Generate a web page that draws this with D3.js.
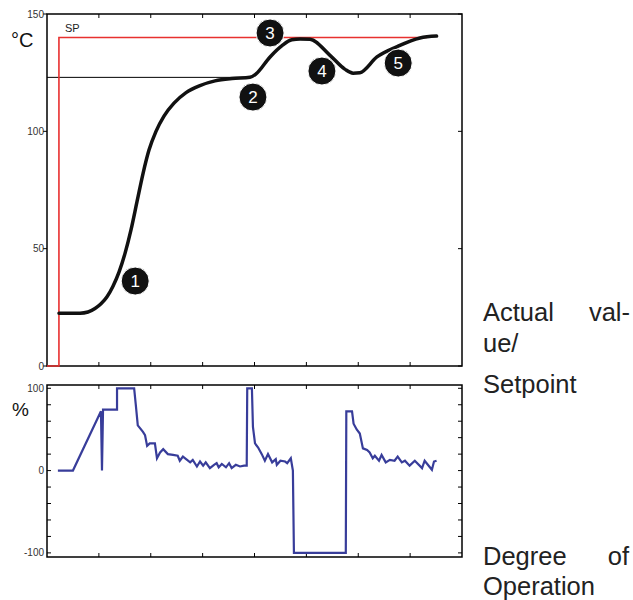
<!DOCTYPE html>
<html>
<head>
<meta charset="utf-8">
<script src="https://cdn.jsdelivr.net/npm/d3@7"></script>
<style>
  body { margin: 0; background: #fff; }
  svg { display: block; font-family: "Liberation Sans", Arial, sans-serif; }
</style>
</head>
<body>
<svg id="chart" width="633" height="600"></svg>
<script>
// time in grid units (0..8), values in °C
const actualX = [0.231, 0.636, 0.79, 0.925, 1.041, 1.157, 1.272, 1.388, 1.504, 1.619, 1.735, 1.851, 1.966, 2.101, 2.255, 2.448, 2.68, 2.949, 3.239, 3.566, 3.913, 4.03, 4.3, 4.53, 4.72, 4.88, 5.07, 5.45, 5.74, 5.9, 6.03, 6.36, 6.74, 7.19, 7.51];
const actualY = [22.5, 22.5, 23, 24.5, 26.5, 29.5, 34, 40, 48, 58, 70, 82, 92, 100, 106.5, 112, 116.5, 119.5, 121.5, 122.5, 123, 124.5, 131.7, 136.5, 139, 139.3, 139.2, 132.5, 126.5, 124.8, 125, 131.7, 136, 139.8, 140.6];

const setpointX = [0, 0.23, 0.23, 7.32];
const setpointY = [0, 0, 140, 140];

const refLineX = [0, 3.9];
const refLineY = [123, 123];

const markerLabels = ["1", "2", "3", "4", "5"];
const markerX = [1.7, 3.97, 4.3, 5.3, 6.77];
const markerY = [36.2, 114.6, 141.9, 125.7, 129.1];

// degree of operation in %
const opX = [0.21, 0.5, 1.04, 1.06, 1.08, 1.35, 1.35, 1.68, 1.71, 1.75, 1.85, 1.89, 1.93, 1.98, 2.08, 2.12, 2.18, 2.24, 2.33, 2.43, 2.52, 2.56, 2.62, 2.76, 2.81, 2.89, 2.95, 3.01, 3.06, 3.14, 3.22, 3.27, 3.31, 3.37, 3.45, 3.51, 3.56, 3.64, 3.72, 3.8, 3.85, 3.86, 3.95, 3.97, 4.01, 4.07, 4.14, 4.2, 4.26, 4.34, 4.41, 4.43, 4.5, 4.59, 4.63, 4.7, 4.74, 4.76, 5.76, 5.77, 5.88, 5.91, 5.97, 6.03, 6.09, 6.17, 6.22, 6.28, 6.32, 6.4, 6.45, 6.53, 6.61, 6.7, 6.76, 6.84, 6.9, 6.99, 7.09, 7.23, 7.28, 7.42, 7.46, 7.51];
const opY = [0, 0, 72, 0, 74, 74, 100, 100, 81, 55, 47, 43, 30, 33, 33, 15, 22, 26, 20, 19, 18, 12, 17, 10, 13, 5, 11, 6, 10, 3, 7, 9, 4, 8, 4, 9, 3, 7, 5, 6, 6, 100, 100, 53, 33, 28, 20, 12, 20, 10, 14, 7, 12, 11, 9, 15, 0, -100, -100, 72, 72, 57, 50, 45, 27, 25, 22, 15, 18, 12, 19, 10, 13, 12, 17, 10, 12, 6, 12, 3, 12, 1, 11, 12];

const topTicks = [0, 50, 100, 150];
const opTicks = d3.range(-100, 101, 20);
const opLabels = [-100, 0, 100];
const xTicks = d3.range(1, 8);

const svg = d3.select("#chart");

const x = d3.scaleLinear().domain([0, 8]).range([47, 462]);
const yTop = d3.scaleLinear().domain([0, 150]).range([366, 14]);
const yBot = d3.scaleLinear().domain([-105, 104]).range([557, 385]);

const red = "#e8312f";
const blue = "#383d9a";

function frame(y, ticks, labels, outwardLeft) {
  const g = svg.append("g");
  const [y0, y1] = y.range();
  // x ticks, top and bottom, pointing in
  xTicks.forEach(function (t) {
    g.append("line").attr("x1", x(t)).attr("x2", x(t)).attr("y1", y1).attr("y2", y1 + 4)
      .attr("stroke", "#000").attr("stroke-width", 1);
    g.append("line").attr("x1", x(t)).attr("x2", x(t)).attr("y1", y0).attr("y2", y0 - 4)
      .attr("stroke", "#000").attr("stroke-width", 1);
  });
  ticks.forEach(function (t) {
    const yy = y(t);
    g.append("line").attr("x1", x(0)).attr("x2", outwardLeft ? x(0) - 4 : x(0) + 4)
      .attr("y1", yy).attr("y2", yy).attr("stroke", "#000").attr("stroke-width", 1);
    g.append("line").attr("x1", x(8)).attr("x2", x(8) - 4)
      .attr("y1", yy).attr("y2", yy).attr("stroke", "#000").attr("stroke-width", 1);
  });
  labels.forEach(function (t) {
    g.append("text").attr("x", x(0) - 3).attr("y", y(t) + 3.5)
      .attr("text-anchor", "end").attr("font-size", 10).attr("fill", "#333").text(t);
  });
  g.append("rect").attr("x", x(0)).attr("y", y1).attr("width", x(8) - x(0)).attr("height", y0 - y1)
    .attr("fill", "none").attr("stroke", "#000").attr("stroke-width", 1.5);
}

frame(yTop, topTicks, topTicks, true);
frame(yBot, opTicks, opLabels, false);

const lineTop = d3.line().x(d => x(d[0])).y(d => yTop(d[1]));

svg.append("path")
  .attr("d", lineTop(d3.zip(refLineX, refLineY)))
  .attr("fill", "none").attr("stroke", "#000").attr("stroke-width", 1);

svg.append("path")
  .attr("d", lineTop(d3.zip(setpointX, setpointY)))
  .attr("fill", "none").attr("stroke", red).attr("stroke-width", 1.6);

svg.append("path")
  .attr("d", lineTop.curve(d3.curveMonotoneX)(d3.zip(actualX, actualY)))
  .attr("fill", "none").attr("stroke", "#111").attr("stroke-width", 3.5)
  .attr("stroke-linecap", "round").attr("stroke-linejoin", "round");

svg.append("path")
  .attr("d", d3.line().x(d => x(d[0])).y(d => yBot(d[1]))(d3.zip(opX, opY)))
  .attr("fill", "none").attr("stroke", blue).attr("stroke-width", 2.2);

const markers = svg.append("g").selectAll("g")
  .data(d3.zip(markerLabels, markerX, markerY))
  .join("g")
  .attr("transform", d => `translate(${x(d[1])},${yTop(d[2])})`);
markers.append("circle").attr("r", 14).attr("fill", "#111").attr("stroke", "#fff").attr("stroke-width", 1);
markers.append("text").attr("y", 6).attr("text-anchor", "middle")
  .attr("font-size", 17).attr("fill", "#fff").text(d => d[0]);

svg.append("text").attr("x", 65).attr("y", 32).attr("font-size", 11).attr("fill", "#222").text("SP");
svg.append("text").attr("x", 11).attr("y", 47).attr("font-size", 20).attr("fill", "#111").text("°C");
svg.append("text").attr("x", 12).attr("y", 416).attr("font-size", 19).attr("fill", "#111").text("%");

const label = svg.append("g").attr("font-size", 25.5).attr("fill", "#222");
label.append("text").attr("x", 483).attr("y", 321).text("Actual");
label.append("text").attr("x", 630).attr("y", 321).attr("text-anchor", "end").text("val-");
label.append("text").attr("x", 483).attr("y", 352).text("ue/");
label.append("text").attr("x", 483).attr("y", 393).text("Setpoint");
label.append("text").attr("x", 483).attr("y", 565).text("Degree");
label.append("text").attr("x", 629).attr("y", 565).attr("text-anchor", "end").text("of");
label.append("text").attr("x", 483).attr("y", 595).text("Operation");
</script>
</body>
</html>
